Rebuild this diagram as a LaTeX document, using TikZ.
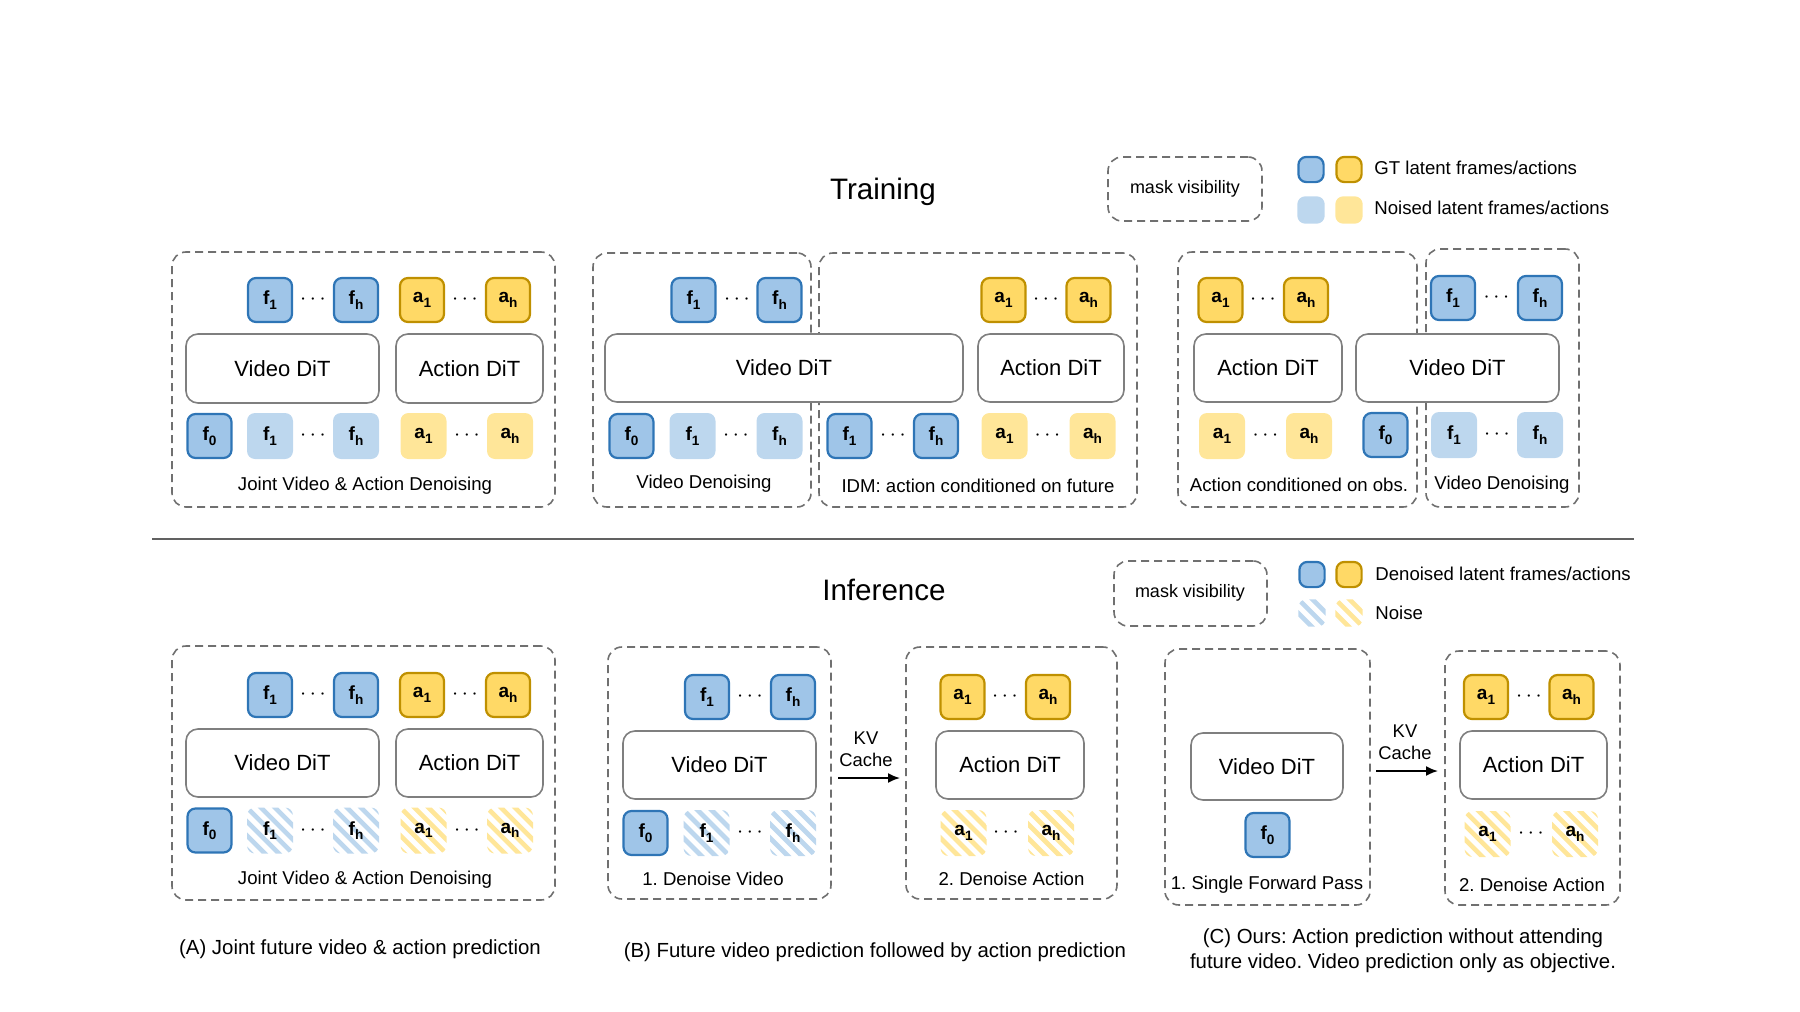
\documentclass[tikz,border=0pt]{standalone}
\usepackage{fontspec}
\setmainfont{Liberation Sans}
\usetikzlibrary{fit,arrows.meta}
\frenchspacing
\definecolor{bF}{HTML}{9FC5E8}
\definecolor{bD}{HTML}{2E75B6}
\definecolor{bN}{HTML}{BDD7EE}
\definecolor{yF}{HTML}{FFD966}
\definecolor{yD}{HTML}{BF9000}
\definecolor{yN}{HTML}{FFE699}
\definecolor{dashc}{HTML}{707070}
\definecolor{ditc}{HTML}{7F7F7F}
\newcommand\tkl[2]{#1\raisebox{-0.45ex}{\fontsize{6.8}{7}\selectfont #2}}
\newcommand\ditbox[6]{\node[dit, minimum width={(#4-#2)*0.5pt}, minimum height={(#5-#3)*0.5pt}] (#1) at ({(#2+#4)/2},{(#3+#5)/2}) {#6};}
\tikzset{
  tok/.style={rounded corners=4pt, minimum size=22pt, inner sep=0pt, font=\fontsize{9.5}{10}\selectfont\bfseries},
  bgt/.style={tok, draw=bD, fill=bF, line width=1.1pt},
  bno/.style={tok, fill=bN, minimum size=23pt},
  ygt/.style={tok, draw=yD, fill=yF, line width=1.1pt},
  yno/.style={tok, fill=yN, minimum size=23pt},
  stripes/.style={fill=white, path picture={\foreach \k in {-5,...,5}{\draw[#1,line width=2.3pt] ([shift={({\k*7pt-20pt},20pt)}]path picture bounding box.center) -- ++(40pt,-40pt);}}},
  bst/.style={tok, minimum size=23pt, stripes=bN},
  yst/.style={tok, minimum size=23pt, stripes=yN},
  dts/.style={inner sep=0pt, font=\fontsize{11}{11}\selectfont},
  dit/.style={draw=ditc, line width=0.8pt, rounded corners=6pt, fill=white, inner sep=0pt, font=\fontsize{11}{13}\selectfont},
  dbox/.style={draw=dashc, line width=0.8pt, dash pattern=on 4pt off 2.5pt, rounded corners=7pt, inner sep=0pt},
  lbl/.style={font=\fontsize{9.3}{11}\selectfont, inner sep=0pt},
  ttl/.style={font=\fontsize{14.8}{17}\selectfont, inner sep=0pt},
  leg/.style={font=\fontsize{9.3}{11}\selectfont, inner sep=0pt, anchor=west},
  msk/.style={font=\fontsize{9}{11}\selectfont, inner sep=0pt},
  lsq/.style={rounded corners=2.5pt, inner sep=0pt},
  captxt/.style={font=\fontsize{10.2}{12.5}\selectfont, inner sep=0pt, align=center},
  kv/.style={font=\fontsize{9.2}{11}\selectfont, inner sep=0pt, align=center},
  kvarrow/.style={line width=0.9pt, -{Latex[length=6pt,width=5pt]}},
}
\begin{document}
\begin{tikzpicture}[x=0.5pt,y=-0.5pt]
\useasboundingbox (0,0) rectangle (1800,1012);

% ---------------- Titles and legends ----------------
\node[ttl] (ttrain) at (883,192) {Training};
\node[ttl] (tinf) at (884,590) {Inference};

\node[dbox, fit={(1108,157) (1262,221)}] (lm1) {};
\node[msk] (lm1t) at (1185,189) {mask visibility};
\node[lsq, bgt, minimum size=12.6pt] (lg1) at (1311,169.5) {};
\node[lsq, ygt, minimum size=12.6pt] (lg2) at (1349,169.5) {};
\node[lsq, bno, minimum size=13.7pt] (lg3) at (1311,210) {};
\node[lsq, yno, minimum size=13.7pt] (lg4) at (1349,210) {};
\node[leg] (lgt1) at (1374,168) {GT latent frames/actions};
\node[leg] (lgt2) at (1374,208) {Noised latent frames/actions};

\node[dbox, fit={(1114,561) (1267,626)}] (lm2) {};
\node[msk] (lm2t) at (1190,593) {mask visibility};
\node[lsq, bgt, minimum size=12.6pt] (lh1) at (1312,574.5) {};
\node[lsq, ygt, minimum size=12.6pt] (lh2) at (1349,574.5) {};
\node[lsq, bst, minimum size=13.7pt] (lh3) at (1312,613) {};
\node[lsq, yst, minimum size=13.7pt] (lh4) at (1349,613) {};
\node[leg] (lht1) at (1375,574) {Denoised latent frames/actions};
\node[leg] (lht2) at (1375,613) {Noise};

% separator
\coordinate (sepL) at (152,539);
\coordinate (sepR) at (1634,539);
\draw[line width=1pt, color=black!62] (sepL) -- (sepR);

% ---------------- Training (A) ----------------
\node[dbox, fit={(172,252) (555,507)}] (tA) {};
\node[bgt] (tAf1) at (270,300) {\tkl{f}{1}};
\node[dts] (tAd1) at (313,300) {$\cdots$};
\node[bgt] (tAfh) at (356,300) {\tkl{f}{h}};
\node[ygt] (tAa1) at (422,300) {\tkl{a}{1}};
\node[dts] (tAd2) at (465,300) {$\cdots$};
\node[ygt] (tAah) at (508,300) {\tkl{a}{h}};
\ditbox{tAvd}{186}{334}{379}{403}{Video DiT}
\ditbox{tAad}{396}{334}{543}{403}{Action DiT}
\node[bgt] (tAf0b) at (209.5,436) {\tkl{f}{0}};
\node[bno] (tAf1b) at (270,436) {\tkl{f}{1}};
\node[dts] (tAd3) at (313,436) {$\cdots$};
\node[bno] (tAfhb) at (356,436) {\tkl{f}{h}};
\node[yno] (tAa1b) at (423.5,436) {\tkl{a}{1}};
\node[dts] (tAd4) at (467,436) {$\cdots$};
\node[yno] (tAahb) at (510,436) {\tkl{a}{h}};
\node[lbl] (tAl) at (365,486) {Joint Video \& Action Denoising};

% ---------------- Training (B) ----------------
\node[dbox, fit={(593,253) (811,507)}] (tB1) {};
\node[dbox, fit={(819,253) (1137,507)}] (tB2) {};
\node[bgt] (tBf1) at (693.5,300) {\tkl{f}{1}};
\node[dts] (tBd1) at (737,300) {$\cdots$};
\node[bgt] (tBfh) at (779.5,300) {\tkl{f}{h}};
\node[ygt] (tBa1) at (1003.5,300) {\tkl{a}{1}};
\node[dts] (tBd2) at (1046,300) {$\cdots$};
\node[ygt] (tBah) at (1088.5,300) {\tkl{a}{h}};
\ditbox{tBvd}{605}{334}{963}{402}{Video DiT}
\ditbox{tBad}{978}{334}{1124}{402}{Action DiT}
\node[bgt] (tBf0b) at (631.5,436) {\tkl{f}{0}};
\node[bno] (tBf1b) at (692.5,436) {\tkl{f}{1}};
\node[dts] (tBd3) at (736,436) {$\cdots$};
\node[bno] (tBfhb) at (779.5,436) {\tkl{f}{h}};
\node[bgt] (tBg1b) at (849.5,436) {\tkl{f}{1}};
\node[dts] (tBd4) at (893,436) {$\cdots$};
\node[bgt] (tBghb) at (936,436) {\tkl{f}{h}};
\node[yno] (tBa1b) at (1004.5,436) {\tkl{a}{1}};
\node[dts] (tBd5) at (1047.5,436) {$\cdots$};
\node[yno] (tBahb) at (1092.5,436) {\tkl{a}{h}};
\node[lbl] (tBl1) at (704,484) {Video Denoising};
\node[lbl] (tBl2) at (978,486) {IDM: action conditioned on future};

% ---------------- Training (C) ----------------
\node[dbox, fit={(1178,252) (1417,507)}] (tC1) {};
\node[dbox, fit={(1426,249) (1579,507)}] (tC2) {};
\node[ygt] (tCa1) at (1220.5,300) {\tkl{a}{1}};
\node[dts] (tCd1) at (1263,300) {$\cdots$};
\node[ygt] (tCah) at (1306,300) {\tkl{a}{h}};
\node[bgt] (tCf1) at (1453,298) {\tkl{f}{1}};
\node[dts] (tCd2) at (1496.5,298) {$\cdots$};
\node[bgt] (tCfh) at (1540,298) {\tkl{f}{h}};
\ditbox{tCad}{1194}{334}{1342}{402}{Action DiT}
\ditbox{tCvd}{1356}{334}{1559}{402}{Video DiT}
\node[yno] (tCa1b) at (1222,436) {\tkl{a}{1}};
\node[dts] (tCd3) at (1265.5,436) {$\cdots$};
\node[yno] (tCahb) at (1309,436) {\tkl{a}{h}};
\node[bgt] (tCf0b) at (1385.5,435) {\tkl{f}{0}};
\node[bno] (tCf1b) at (1454,435) {\tkl{f}{1}};
\node[dts] (tCd4) at (1497,435) {$\cdots$};
\node[bno] (tCfhb) at (1540,435) {\tkl{f}{h}};
\node[lbl] (tCl1) at (1299,485) {Action conditioned on obs.};
\node[lbl] (tCl2) at (1502,485) {Video Denoising};

% ---------------- Inference (A) ----------------
\node[dbox, fit={(172,646) (555,900)}] (iA) {};
\node[bgt] (iAf1) at (270,695) {\tkl{f}{1}};
\node[dts] (iAd1) at (313,695) {$\cdots$};
\node[bgt] (iAfh) at (356,695) {\tkl{f}{h}};
\node[ygt] (iAa1) at (422,695) {\tkl{a}{1}};
\node[dts] (iAd2) at (465,695) {$\cdots$};
\node[ygt] (iAah) at (508,695) {\tkl{a}{h}};
\ditbox{iAvd}{186}{729}{379}{797}{Video DiT}
\ditbox{iAad}{396}{729}{543}{797}{Action DiT}
\node[bgt] (iAf0b) at (209.5,830.5) {\tkl{f}{0}};
\node[bst] (iAf1b) at (270,830.5) {\tkl{f}{1}};
\node[dts] (iAd3) at (313,830.5) {$\cdots$};
\node[bst] (iAfhb) at (356,830.5) {\tkl{f}{h}};
\node[yst] (iAa1b) at (423.5,830.5) {\tkl{a}{1}};
\node[dts] (iAd4) at (467,830.5) {$\cdots$};
\node[yst] (iAahb) at (510,830.5) {\tkl{a}{h}};
\node[lbl] (iAl) at (365,880) {Joint Video \& Action Denoising};

% ---------------- Inference (B) ----------------
\node[dbox, fit={(608,647) (831,899)}] (iB1) {};
\node[dbox, fit={(906,647) (1117,899)}] (iB2) {};
\node[bgt] (iBf1) at (707,697) {\tkl{f}{1}};
\node[dts] (iBd1) at (750,697) {$\cdots$};
\node[bgt] (iBfh) at (793,697) {\tkl{f}{h}};
\ditbox{iBvd}{623}{731}{816}{799}{Video DiT}
\node[bgt] (iBf0b) at (645.5,833) {\tkl{f}{0}};
\node[bst] (iBf1b) at (706.5,833) {\tkl{f}{1}};
\node[dts] (iBd2) at (750,833) {$\cdots$};
\node[bst] (iBfhb) at (793,833) {\tkl{f}{h}};
\node[lbl] (iBl1) at (713,879) {1. Denoise Video};
\node[kv] (iBkv) at (866,749) {KV\\Cache};
\coordinate (iBa) at (838,778);
\coordinate (iBb) at (900,778);
\draw[kvarrow] (iBa) -- (iBb);
\node[ygt] (iBa1) at (962.5,697) {\tkl{a}{1}};
\node[dts] (iBd3) at (1005,697) {$\cdots$};
\node[ygt] (iBah) at (1048,697) {\tkl{a}{h}};
\ditbox{iBad}{936}{731}{1084}{799}{Action DiT}
\node[yst] (iBa1b) at (963.5,833) {\tkl{a}{1}};
\node[dts] (iBd4) at (1006,833) {$\cdots$};
\node[yst] (iBahb) at (1051,833) {\tkl{a}{h}};
\node[lbl] (iBl2) at (1011.5,879) {2. Denoise Action};

% ---------------- Inference (C) ----------------
\node[dbox, fit={(1165,649) (1370,905)}] (iC1) {};
\node[dbox, fit={(1445,651) (1620,905)}] (iC2) {};
\ditbox{iCvd}{1191}{733}{1343}{800}{Video DiT}
\node[bgt] (iCf0b) at (1267.5,835) {\tkl{f}{0}};
\node[lbl] (iCl1) at (1267,885) {1. Single Forward Pass};
\node[kv] (iCkv) at (1405,742) {KV\\Cache};
\coordinate (iCa) at (1376,771);
\coordinate (iCb) at (1438,771);
\draw[kvarrow] (iCa) -- (iCb);
\node[ygt] (iCa1) at (1486,697) {\tkl{a}{1}};
\node[dts] (iCd1) at (1529,697) {$\cdots$};
\node[ygt] (iCah) at (1571.5,697) {\tkl{a}{h}};
\ditbox{iCad}{1460}{731}{1607}{799}{Action DiT}
\node[yst] (iCa1b) at (1487.5,834) {\tkl{a}{1}};
\node[dts] (iCd2) at (1531,834) {$\cdots$};
\node[yst] (iCahb) at (1575,834) {\tkl{a}{h}};
\node[lbl] (iCl2) at (1532,885) {2. Denoise Action};

% ---------------- Captions ----------------
\node[captxt] (capA) at (360,949) {(A) Joint future video \& action prediction};
\node[captxt] (capB) at (875,952) {(B) Future video prediction followed by action prediction};
\node[captxt] (capC) at (1403,951) {(C) Ours: Action prediction without attending\\future video. Video prediction only as objective.};
\end{tikzpicture}
\end{document}
